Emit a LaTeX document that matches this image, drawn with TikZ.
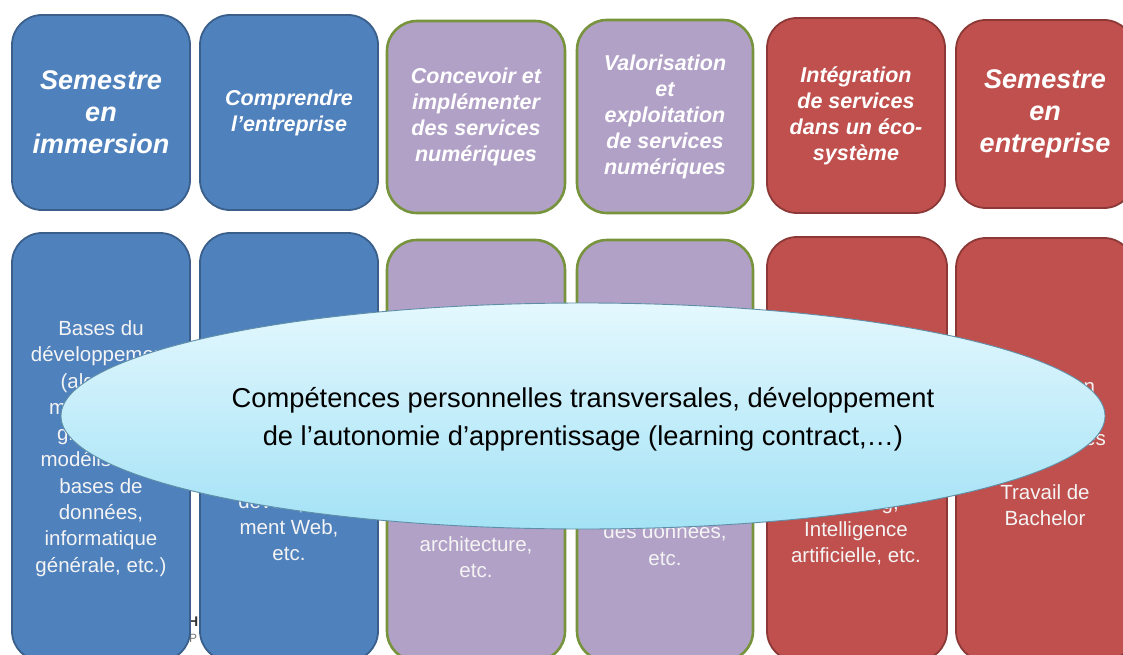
\documentclass[tikz,border=0pt]{standalone}
\usepackage{fontspec}
\setmainfont{Liberation Sans}
\usetikzlibrary{shapes.geometric}
\definecolor{bfill}{HTML}{4F81BD}
\definecolor{bline}{HTML}{3A5F8B}
\definecolor{pfill}{HTML}{B2A1C7}
\definecolor{pline}{HTML}{77933C}
\definecolor{rfill}{HTML}{C0504D}
\definecolor{rline}{HTML}{8C3836}
\definecolor{elltop}{HTML}{E4F8FE}
\definecolor{ellbot}{HTML}{A3E2F5}
\definecolor{ellline}{HTML}{5F8FA8}
\definecolor{bodytext}{HTML}{F4F4F4}
\tikzset{
  box/.style={rectangle, rounded corners=30pt, minimum width=178pt, inner sep=0pt, align=center, text=white},
  bluebox/.style={box, fill=bfill, draw=bline, line width=1.8pt},
  purplebox/.style={box, fill=pfill, draw=pline, line width=2.6pt},
  redbox/.style={box, fill=rfill, draw=rline, line width=1.8pt},
  bighead/.style={font=\fontsize{27}{32}\selectfont\bfseries\itshape},
  smallhead/.style={font=\fontsize{21.5}{26}\selectfont\bfseries\itshape},
  body/.style={text=bodytext, align=center, inner sep=0pt, font=\fontsize{20.5}{26.3}\selectfont},
  frag/.style={inner sep=0pt, anchor=west},
}
\begin{document}
\begin{tikzpicture}[x=1pt,y=-1pt]
\useasboundingbox (0,0) rectangle (1123,655);
\clip (0,0) rectangle (1123,655);
\fill[white] (0,0) rectangle (1123,655);
% background logo fragments
\node[frag, font=\fontsize{14}{14}\selectfont\bfseries, text=black!80] (hfrag) at (188,622) {H};
\node[frag, font=\fontsize{12}{12}\selectfont, text=black!55] (pfrag) at (189,638) {P};
% top row
\node[bluebox, bighead, minimum height=195pt] (t1) at (101,112.5) {Semestre\\en\\immersion};
\node[bluebox, smallhead, minimum height=195pt] (t2) at (289,112.5) {Comprendre\\l’entreprise};
\node[purplebox, smallhead, minimum height=192pt] (t3) at (476,117) {Concevoir et\\implémenter\\des services\\numériques};
\node[purplebox, smallhead, minimum height=193pt, minimum width=176pt] (t4) at (665,116.5) {Valorisation\\et\\exploitation\\de services\\numériques};
\node[redbox, smallhead, minimum height=195pt] (t5) at (856,115.5) {Intégration\\de services\\dans un éco-\\système};
\node[redbox, bighead, minimum height=188pt] (t6) at (1045,114) {Semestre\\en\\entreprise};
% bottom row
\node[bluebox, minimum height=428pt] (b1) at (101,447) {};
\node[bluebox, minimum height=428pt] (b2) at (289,447) {};
\node[purplebox, minimum height=421pt] (b3) at (476,450.5) {};
\node[purplebox, minimum height=421pt, minimum width=176pt] (b4) at (665,450.5) {};
\node[redbox, minimum height=424pt, minimum width=180pt] (b5) at (857,449) {};
\node[redbox, minimum height=423pt] (b6) at (1045,449.5) {};
% bottom texts
\node[body] (x1) at (101,448.5) {Bases du\\développement\\(algorith-\\mique, pro-\\gramme),\\modélisation,\\bases de\\données,\\informatique\\générale, etc.)};
\node[body] (x2) at (289,527) {développe-\\ment Web,\\etc.};
\node[body] (x3) at (476,557.5) {architecture,\\etc.};
\node[body] (x4) at (665,544.5) {des données,\\etc.};
\node[body] (x5) at (856,530) {Learning,\\Intelligence\\artificielle, etc.};
\node[body] (x6a) at (1045,414) {Application\\pratique des\\compétences};
\node[body] (x6b) at (1045,505) {Travail de\\Bachelor};
% central ellipse
\node[ellipse, minimum width=1044pt, minimum height=226pt, inner sep=0pt,
      top color=elltop, bottom color=ellbot, draw=ellline, line width=0.9pt] (comp) at (583,416) {};
\node[align=center, text=black, inner sep=0pt, font=\fontsize{27.3}{38}\selectfont] (comptext) at (583,419.5)
      {Compétences personnelles transversales, développement\\de l’autonomie d’apprentissage (learning contract,…)};
\end{tikzpicture}
\end{document}
